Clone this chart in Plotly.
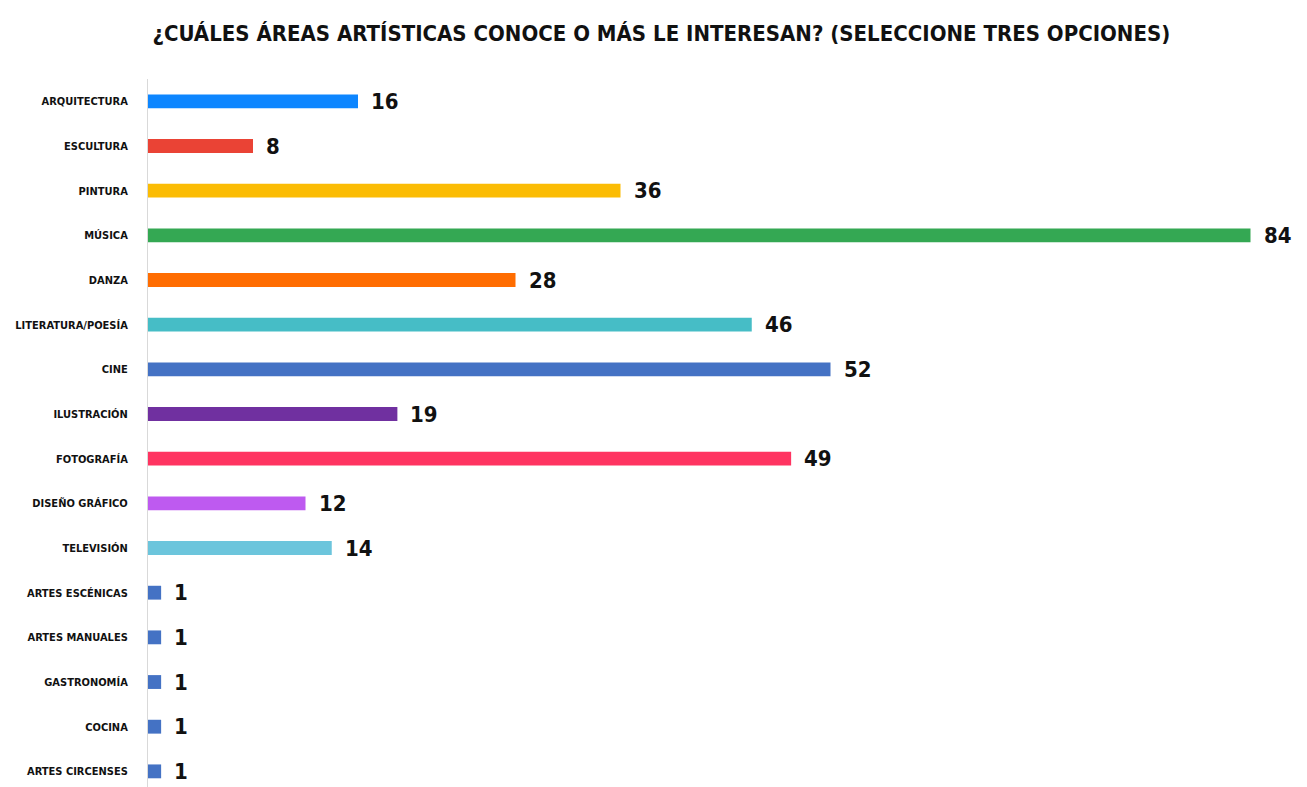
import plotly.graph_objects as go

# Survey answers: art areas people know or are interested in
categories = [
    "ARQUITECTURA", "ESCULTURA", "PINTURA", "MÚSICA", "DANZA",
    "LITERATURA/POESÍA", "CINE", "ILUSTRACIÓN", "FOTOGRAFÍA",
    "DISEÑO GRÁFICO", "TELEVISIÓN", "ARTES ESCÉNICAS", "ARTES MANUALES",
    "GASTRONOMÍA", "COCINA", "ARTES CIRCENSES",
]
counts = [16, 8, 36, 84, 28, 46, 52, 19, 49, 12, 14, 1, 1, 1, 1, 1]
bar_colors = [
    "#0D86FF", "#EA4335", "#FBBC04", "#34A853", "#FF6D01",
    "#46BDC6", "#4472C4", "#7030A0", "#FF3461", "#BE5AF0",
    "#6CC5DC", "#4472C4", "#4472C4", "#4472C4", "#4472C4", "#4472C4",
]

FONT = "DejaVu Sans Condensed, Liberation Sans Narrow, sans-serif"

fig = go.Figure(
    go.Bar(
        x=counts,
        y=categories,
        orientation="h",
        marker=dict(color=bar_colors, line=dict(width=0)),
        width=0.31,
        hoverinfo="x+y",
    )
)

# Value labels to the right of each bar
for cat, val in zip(categories, counts):
    fig.add_annotation(
        x=val, y=cat, text=f"<b>{val}</b>",
        xanchor="left", yanchor="middle", xshift=11, showarrow=False,
        font=dict(family=FONT, size=22, color="#111111"),
    )

fig.update_layout(
    width=1307, height=787,
    margin=dict(l=148, r=4, t=79, b=0),
    paper_bgcolor="white", plot_bgcolor="white",
    title=dict(
        text="<b>¿CUÁLES ÁREAS ARTÍSTICAS CONOCE O MÁS LE INTERESAN? (SELECCIONE TRES OPCIONES)</b>",
        x=0.506, xanchor="center", y=0.958, yanchor="middle",
        font=dict(family=FONT, size=22, color="#111111"),
    ),
    showlegend=False,
)
fig.update_xaxes(
    range=[0, 88], showgrid=False, zeroline=False, showticklabels=False,
    showline=False, ticks="", automargin=False,
)
fig.update_yaxes(
    type="category", range=[15.35, -0.5], showgrid=False, zeroline=False,
    showline=True, linecolor="#D9D9D9", linewidth=1, ticks="",
    ticklabelstandoff=17, automargin=False,
    tickfont=dict(family=FONT, size=11, color="#111111"),
    tickprefix="<b>", ticksuffix="</b>",
)

fig.write_html("out.html")
